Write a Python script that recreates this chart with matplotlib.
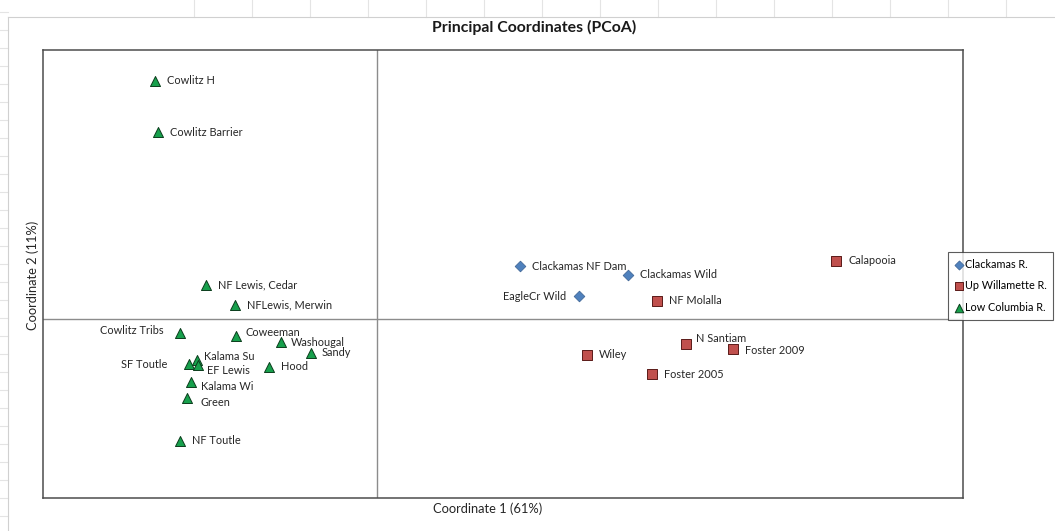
import matplotlib.pyplot as plt
from matplotlib.lines import Line2D

# PCoA scores (coordinate 1, coordinate 2)
clack_names = ['Clackamas NF Dam', 'Clackamas Wild', 'EagleCr Wild']
clack_x = [0.143, 0.251, 0.202]
clack_y = [0.053, 0.044, 0.023]

will_names = ['Calapooia', 'NF Molalla', 'N Santiam', 'Foster 2009', 'Wiley', 'Foster 2005']
will_x = [0.459, 0.280, 0.309, 0.356, 0.210, 0.275]
will_y = [0.058, 0.018, -0.025, -0.030, -0.036, -0.055]

lowc_names = ['Cowlitz H', 'Cowlitz Barrier', 'NF Lewis, Cedar', 'NFLewis, Merwin',
              'Cowlitz Tribs', 'Coweeman', 'Washougal', 'Sandy', 'Kalama Su',
              'SF Toutle', 'EF Lewis', 'Hood', 'Kalama Wi', 'Green', 'NF Toutle']
lowc_x = [-0.222, -0.219, -0.171, -0.142, -0.197, -0.141, -0.096, -0.066, -0.180,
          -0.188, -0.179, -0.108, -0.186, -0.190, -0.197]
lowc_y = [0.238, 0.187, 0.034, 0.014, -0.014, -0.017, -0.023, -0.034, -0.041,
          -0.045, -0.046, -0.048, -0.063, -0.079, -0.122]

legend_labels = ['Clackamas R.', 'Up Willamette R.', 'Low Columbia R.']

# label offsets in pixels (dx, dy, ha)
offsets = {
    'Cowlitz Tribs': (-16, 2, 'right'), 'SF Toutle': (-22, 0, 'right'),
    'EagleCr Wild': (-13, 0, 'right'), 'Coweeman': (9, 3, 'left'),
    'Kalama Su': (7, 3, 'left'), 'EF Lewis': (9, -5, 'left'),
    'Kalama Wi': (10, -4, 'left'), 'Green': (13, -5, 'left'),
    'N Santiam': (10, 5, 'left'), 'Foster 2009': (12, -2, 'left'),
    'Washougal': (10, 0, 'left'), 'Sandy': (11, 0, 'left'),
}

plt.rcParams['font.family'] = ['Lato', 'DejaVu Sans']

W, H = 1055, 531
fig = plt.figure(figsize=(W / 100, H / 100), dpi=100)

# faint spreadsheet gridlines behind the chart
grid_c = '#e4e4e4'
for gx in range(194, W, 58):
    fig.add_artist(Line2D([gx / W, gx / W], [1 - 17 / H, 1], color=grid_c, lw=0.8))
for gy in range(12, H, 18):
    fig.add_artist(Line2D([0, 8 / W], [1 - gy / H, 1 - gy / H], color=grid_c, lw=0.8))
fig.add_artist(Line2D([8 / W, 8 / W], [0, 1 - 17 / H], color='#d0d0d0', lw=0.8))
fig.add_artist(Line2D([8 / W, 1], [1 - 17 / H, 1 - 17 / H], color='#d0d0d0', lw=0.8))

ax = fig.add_axes([43 / W, 33 / H, 920 / W, 448 / H])
ax.set_xlim(-0.334, 0.586)
ax.set_ylim(-0.179, 0.269)
ax.set_xticks([])
ax.set_yticks([])
for s in ax.spines.values():
    s.set_color('#4d4d4d')
    s.set_linewidth(1.1)
ax.axvline(0, color='#8c8c8c', lw=1)
ax.axhline(0, color='#8c8c8c', lw=1)

h1 = ax.scatter(clack_x, clack_y, marker='D', s=30, color='#4f81bd',
                edgecolors='#3a6090', linewidths=0.5, zorder=3)
h2 = ax.scatter(will_x, will_y, marker='s', s=48, color='#c0504d',
                edgecolors='#5a1a18', linewidths=0.7, zorder=3)
h3 = ax.scatter(lowc_x, lowc_y, marker='^', s=52, color='#17a04c',
                edgecolors='#0b3d1c', linewidths=0.7, zorder=3)

for names, xs, ys in [(clack_names, clack_x, clack_y),
                      (will_names, will_x, will_y),
                      (lowc_names, lowc_x, lowc_y)]:
    for n, x, y in zip(names, xs, ys):
        dx, dy, ha = offsets.get(n, (12, 0, 'left'))
        ax.annotate(n, (x, y), xytext=(dx, dy), textcoords='offset pixels',
                    ha=ha, va='center', fontsize=7.9, color='#262626')

fig.text(534 / W, 1 - 27 / H, 'Principal Coordinates (PCoA)', ha='center',
         va='center', fontsize=11.4, fontweight='bold', color='#1a1a1a')
fig.text(488 / W, 1 - 509 / H, 'Coordinate 1 (61%)', ha='center', va='center',
         fontsize=9.3, color='#262626')
fig.text(33 / W, 1 - 275 / H, 'Coordinate 2 (11%)', ha='center', va='center',
         rotation=90, fontsize=9.3, color='#262626')

leg = fig.legend([h1, h2, h3], legend_labels, loc='upper left',
                 bbox_to_anchor=(948 / W, 1 - 252 / H), fontsize=7.8,
                 frameon=True, fancybox=False, edgecolor='#333333',
                 handletextpad=0.15, handlelength=0.8, borderpad=0.6,
                 labelspacing=1.0, borderaxespad=0, markerscale=0.85)
leg.get_frame().set_linewidth(0.8)

fig.savefig('out.png', dpi=100)
